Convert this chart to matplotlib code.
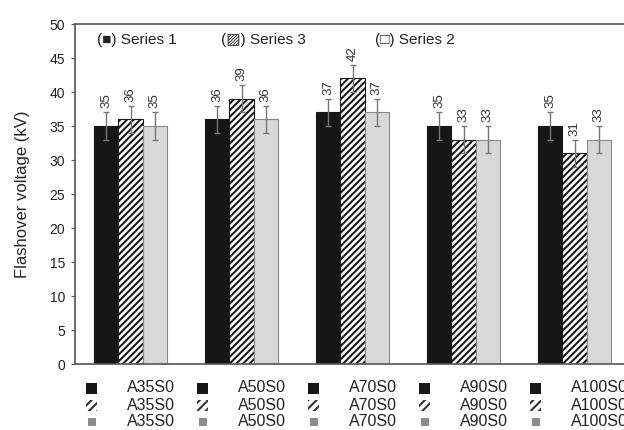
import matplotlib
matplotlib.use('Agg')
import matplotlib.pyplot as plt
from matplotlib.patches import Rectangle
from matplotlib.transforms import blended_transform_factory
import numpy as np

plt.rcParams['font.family'] = ['Liberation Sans', 'DejaVu Sans']
plt.rcParams['hatch.linewidth'] = 1.5

groups = ['A35S0', 'A50S0', 'A70S0', 'A90S0', 'A100S0']
series_names = ['Series 1', 'Series 3', 'Series 2']
series1 = [35, 36, 37, 35, 35]
series3 = [36, 39, 42, 33, 31]
series2 = [35, 36, 37, 33, 33]
errors1 = [2, 2, 2, 2, 2]
errors3 = [2, 2, 2, 2, 2]
errors2 = [2, 2, 2, 2, 2]

W, H = 624, 430
fig = plt.figure(figsize=(W / 100, H / 100), dpi=100)
# the right edge of the axes runs just past the picture, as in the source
ax = fig.add_axes([75 / W, (H - 364) / H, 555 / W, 340 / H])

x = np.arange(len(groups))
bw = 0.22
styles = [
    dict(color='#161616', edgecolor='#161616', hatch=None),
    dict(color='white', edgecolor='#1a1a1a', hatch='/////'),
    dict(color='#d8d8d8', edgecolor='#8a8a8a', hatch=None),
]
values = [series1, series3, series2]
errors = [errors1, errors3, errors2]

for i, (vals, errs, st) in enumerate(zip(values, errors, styles)):
    pos = x + (i - 1) * bw
    ax.bar(pos, vals, width=bw, color=st['color'], edgecolor=st['edgecolor'],
           hatch=st['hatch'], linewidth=0.8, zorder=2)
    ax.errorbar(pos, vals, yerr=errs, fmt='none', ecolor='#777777',
                elinewidth=1.0, capsize=2.5, capthick=1.0, zorder=3)
    for p, v, e in zip(pos, vals, errs):
        ax.text(p, v + e + 0.6, str(v), rotation=90, ha='center', va='bottom',
                fontsize=9.5, color='#333333')

ax.set_xlim(-0.5, len(groups) - 0.5)
ax.set_ylim(0, 50)
ax.set_yticks(np.arange(0, 51, 5))
ax.set_xticks([])
ax.tick_params(axis='y', labelsize=10, direction='out', length=3, color='#555555',
               labelcolor='#222222', pad=4)
for s in ax.spines.values():
    s.set_color('#555555')
    s.set_linewidth(1.2)
ax.set_ylabel('Flashover voltage (kV)', fontsize=12, color='#222222', labelpad=14)

# top legend
top_x = [97, 221, 375]
top_marks = ['\u25a0', '\u25a8', '\u25a1']
for xp, mk, name in zip(top_x, top_marks, series_names):
    fig.text(xp / W, (H - 40) / H, '(' + mk + ') ' + name, fontsize=11,
             color='#222222', va='center', ha='left',
             family=['Liberation Sans', 'DejaVu Sans'])

# bottom legend table
tr = blended_transform_factory(ax.transData, fig.transFigure)
row_y = [388, 405, 422]
mark_styles = [
    dict(fc='#161616', hatch=None, size=11),
    dict(fc='white', hatch='////', size=11),
    dict(fc='#8c8c8c', hatch=None, size=8),
]
for gi, g in enumerate(groups):
    for ry, ms in zip(row_y, mark_styles):
        cx = gi - 0.35
        sz = ms['size']
        r = Rectangle((cx - sz / 2 / 111, (H - ry - sz / 2) / H), sz / 111, sz / H,
                      facecolor=ms['fc'], edgecolor='none', hatch=ms['hatch'],
                      transform=tr, clip_on=False)
        if ms['hatch']:
            r.set_edgecolor('#333333')
            r.set_linewidth(0)
        fig.add_artist(r)
        fig.text(gi - 0.03, (H - ry) / H, g, transform=tr, fontsize=11.5,
                 color='#222222', ha='left', va='center')

fig.savefig('out.png', dpi=100)
